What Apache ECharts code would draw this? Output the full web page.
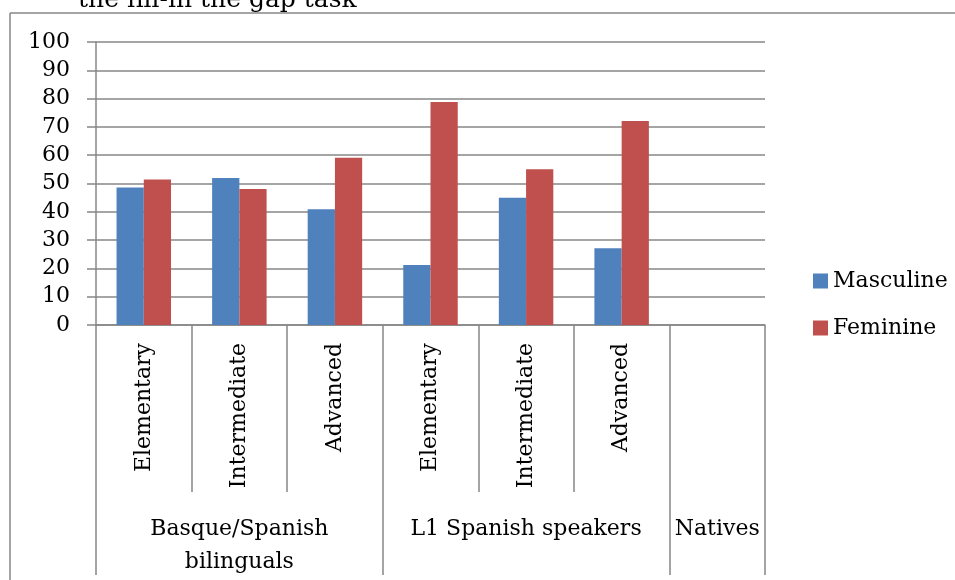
<!DOCTYPE html>
<html>
<head>
<meta charset="utf-8">
<script src="https://cdn.jsdelivr.net/npm/echarts@6/dist/echarts.min.js"></script>
<style>
  html, body { margin: 0; padding: 0; background: #fff; }
  #chart { width: 955px; height: 580px; }
</style>
</head>
<body>
<div id="chart"></div>
<script>
// Proficiency levels (inner axis) and learner groups (outer axis)
const levels = ['Elementary', 'Intermediate', 'Advanced', 'Elementary', 'Intermediate', 'Advanced', ''];
const groups = ['Basque/Spanish\nbilinguals', 'L1 Spanish speakers', 'Natives'];
const groupSizes = [3, 3, 1];

// Percentage of responses by gender
const masculine = [48.6, 51.9, 40.9, 21.2, 45.0, 27.1, null];
const feminine = [51.4, 48.1, 59.1, 78.8, 55.0, 72.1, null];

// Y axis scale
const yMin = 0, yMax = 100, yStep = 10;

// Outer axis: one label centred on the middle slot of each group,
// plus the indices where each group begins (for the separator ticks)
const groupSlots = [];
const groupStarts = [];
groups.forEach((g, gi) => {
  groupStarts.push(groupSlots.length);
  const n = groupSizes[gi];
  for (let k = 0; k < n; k++) {
    groupSlots.push(k === Math.floor(n / 2) ? g : '');
  }
});

const FONT = 'DejaVu Serif';
const LINE = '#878787';
const gridBox = { left: 96, right: 190, top: 42, bottom: 255 };

const chart = echarts.init(document.getElementById('chart'), null, { renderer: 'canvas' });
chart.setOption({
  animation: false,
  backgroundColor: '#fff',
  textStyle: { fontFamily: FONT, color: '#000' },
  graphic: [
    {
      type: 'text',
      left: 78, top: -12,
      style: { text: 'the fill-in the gap task', font: '25px "DejaVu Serif"', fill: '#000' },
      silent: true
    },
    {
      type: 'line',
      shape: { x1: 10, y1: 13, x2: 2000, y2: 13 },
      style: { stroke: LINE, lineWidth: 1.5 },
      silent: true,
      z: -1
    },
    {
      type: 'line',
      shape: { x1: 10, y1: 13, x2: 10, y2: 2000 },
      style: { stroke: LINE, lineWidth: 1.5 },
      silent: true,
      z: -1
    }
  ],
  grid: [
    Object.assign({ containLabel: false }, gridBox),
    Object.assign({ containLabel: false }, gridBox)
  ],
  legend: {
    orient: 'vertical',
    left: 808,
    top: 264,
    itemWidth: 15,
    itemHeight: 15,
    itemGap: 23,
    itemTextGap: 6,
    icon: 'rect',
    textStyle: { fontFamily: FONT, fontSize: 22, color: '#000', lineHeight: 24 },
    data: ['Masculine', 'Feminine']
  },
  xAxis: [
    {
      type: 'category',
      gridIndex: 0,
      data: levels,
      boundaryGap: true,
      axisLine: { show: true, lineStyle: { color: LINE, width: 1.5 } },
      axisTick: { show: true, interval: 0, length: 167, lineStyle: { color: LINE, width: 1.5 } },
      axisLabel: {
        interval: 0, rotate: 90, margin: 18,
        fontFamily: FONT, fontSize: 22, color: '#000'
      },
      splitLine: { show: false }
    },
    {
      type: 'category',
      gridIndex: 1,
      data: groupSlots,
      boundaryGap: true,
      axisLine: { show: false },
      axisTick: {
        show: true,
        interval: (i) => groupStarts.indexOf(i) !== -1,
        length: 250,
        lineStyle: { color: LINE, width: 1.5 }
      },
      axisLabel: {
        interval: 0, margin: 188,
        fontFamily: FONT, fontSize: 22, color: '#000',
        verticalAlign: 'top', lineHeight: 33, align: 'center'
      },
      splitLine: { show: false }
    }
  ],
  yAxis: [
    {
      type: 'value',
      gridIndex: 0,
      min: yMin, max: yMax, interval: yStep,
      axisLine: { show: true, lineStyle: { color: LINE, width: 1.5 } },
      axisTick: { show: true, length: 9, lineStyle: { color: LINE, width: 1.5 } },
      axisLabel: { margin: 26, fontFamily: FONT, fontSize: 22, color: '#000' },
      splitLine: { show: true, lineStyle: { color: LINE, width: 1.5 } }
    },
    {
      type: 'value',
      gridIndex: 1,
      show: false,
      min: yMin, max: yMax
    }
  ],
  series: [
    {
      name: 'Masculine',
      type: 'bar',
      xAxisIndex: 0, yAxisIndex: 0,
      data: masculine,
      barGap: '0%',
      barCategoryGap: '43%',
      itemStyle: { color: '#4F81BD' }
    },
    {
      name: 'Feminine',
      type: 'bar',
      xAxisIndex: 0, yAxisIndex: 0,
      data: feminine,
      barGap: '0%',
      barCategoryGap: '43%',
      itemStyle: { color: '#C0504D' }
    }
  ]
});
</script>
</body>
</html>
